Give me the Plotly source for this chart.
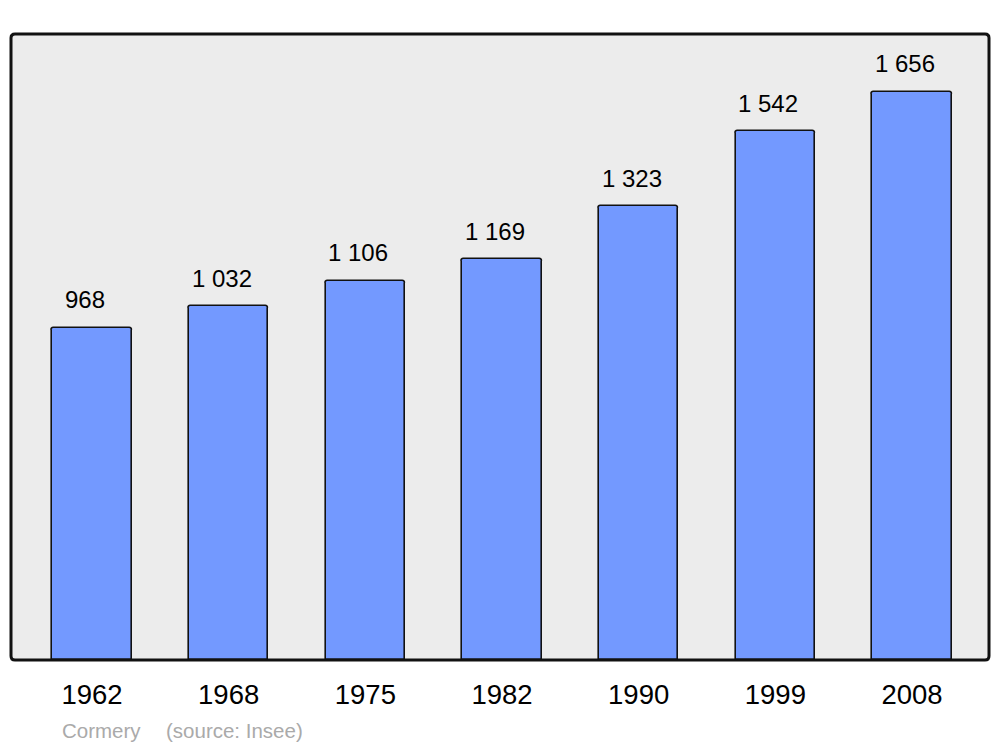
import plotly.graph_objects as go

years = ["1962", "1968", "1975", "1982", "1990", "1999", "2008"]
population = [968, 1032, 1106, 1169, 1323, 1542, 1656]
caption_name = "Cormery"
caption_source = "(source: Insee)"

x_idx = list(range(len(years)))
labels = [f"{v:,}".replace(",", " ") for v in population]
FONT = "Liberation Sans, Arial, sans-serif"

fig = go.Figure()
fig.add_trace(go.Bar(
    x=x_idx, y=population, width=0.58,
    marker=dict(color="#7399ff", line=dict(color="#111111", width=1.6), cornerradius=3),
    hoverinfo="skip",
))

for xi, v, t in zip(x_idx, population, labels):
    fig.add_annotation(x=xi, y=v, text=t, showarrow=False, xref="x", yref="y",
                       yanchor="middle", yshift=28, xshift=-7,
                       font=dict(family=FONT, size=24, color="#000"))

W, H = 1000, 747
ml, mr, mt, mb = 11, 11, 34, 87
fig.update_layout(
    width=W, height=H,
    margin=dict(l=ml, r=mr, t=mt, b=mb),
    paper_bgcolor="white", plot_bgcolor="#ececec",
    showlegend=False,
    bargap=0,
    xaxis=dict(range=[-0.5927, 6.5634], tickvals=x_idx, ticktext=years,
               showgrid=False, zeroline=False, showline=False,
               ticks="outside", ticklen=0, ticklabelstandoff=10,
               tickfont=dict(family=FONT, size=27.5, color="#000")),
    yaxis=dict(range=[0, 1825], visible=False, showgrid=False, zeroline=False),
)

pw, ph = W - ml - mr, H - mt - mb
def px_x(p):
    return (p - ml) / pw
def px_y(p):
    return (H - mb - p) / ph
fig.add_annotation(x=px_x(60), y=px_y(730), xref="paper", yref="paper", text=caption_name,
                   showarrow=False, xanchor="left", yanchor="middle",
                   font=dict(family=FONT, size=20.5, color="#aaaaaa"))
fig.add_annotation(x=px_x(164), y=px_y(730), xref="paper", yref="paper", text=caption_source,
                   showarrow=False, xanchor="left", yanchor="middle",
                   font=dict(family=FONT, size=20.5, color="#aaaaaa"))

# rounded frame around plot area
rx, ry = 4 / pw, 4 / ph
path = (f"M {rx},0 L {1-rx},0 Q 1,0 1,{ry} L 1,{1-ry} Q 1,1 {1-rx},1 "
        f"L {rx},1 Q 0,1 0,{1-ry} L 0,{ry} Q 0,0 {rx},0 Z")
fig.add_shape(type="path", path=path, xref="paper", yref="paper",
              line=dict(color="#111111", width=3), layer="above")

fig.write_html("out.html", config={"displayModeBar": False},
               post_script="document.body.style.margin='0';document.body.style.overflow='hidden';")
